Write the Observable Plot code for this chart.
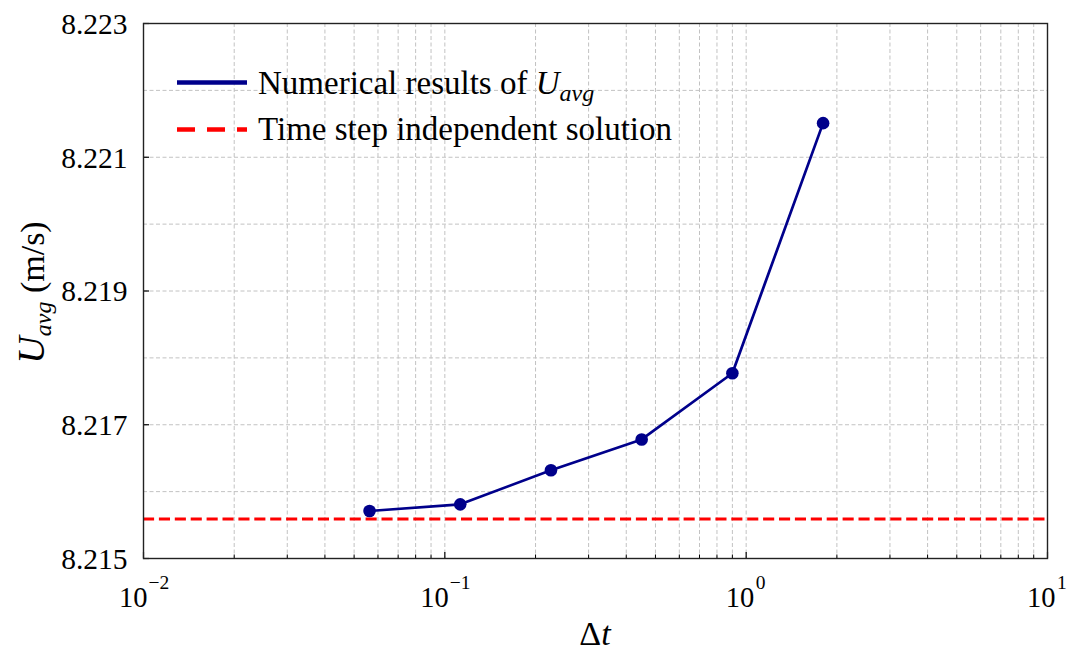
<!DOCTYPE html>
<html>
<head>
<meta charset="utf-8">
<script src="https://cdn.jsdelivr.net/npm/d3@7"></script>
<script src="https://cdn.jsdelivr.net/npm/@observablehq/plot@0.6"></script>
<style>
  html, body { margin: 0; padding: 0; background: #fff; }
  #chart { width: 1072px; height: 653px; }
  #chart svg, #chart svg text { font-family: 'Liberation Serif', 'Times New Roman', serif; }
</style>
</head>
<body>
<div id="chart"></div>
<script>
// ---- data ----
const dt = [0.05625, 0.1125, 0.225, 0.45, 0.9, 1.8];
const uavg = [8.21571, 8.21581, 8.21632, 8.21678, 8.21777, 8.22151];
const independentSolution = 8.21559;

// ---- ticks ----
const xMajor = [0.01, 0.1, 1, 10];
const xMinor = [0.02, 0.03, 0.04, 0.05, 0.06, 0.07, 0.08, 0.09,
                0.2, 0.3, 0.4, 0.5, 0.6, 0.7, 0.8, 0.9,
                2, 3, 4, 5, 6, 7, 8, 9];
const yTicks = [8.215, 8.217, 8.219, 8.221, 8.223];
const yGrid = [8.215, 8.216, 8.217, 8.218, 8.219, 8.220, 8.221, 8.222, 8.223];

const legendLabels = ["Numerical results of ", "Time step independent solution"];

// ---- layout ----
const W = 1072, H = 653, mL = 143, mR = 25, mT = 23, mB = 95;
const fw = W - mL - mR, fh = H - mT - mB;
const FONT = "'Liberation Serif', 'Times New Roman', serif";
const BLUE = "#00008b", RED = "#ff0000", GRID = "#c2c2c2";

const points = dt.map((d, i) => ({dt: d, u: uavg[i]}));
const expOf = d => String(Math.round(Math.log10(d))).replace("-", "\u2212");
const negExp = xMajor.filter(d => d < 1);
const posExp = xMajor.filter(d => d >= 1);

const plot = Plot.plot({
  width: W, height: H,
  marginLeft: mL, marginRight: mR, marginTop: mT, marginBottom: mB,
  style: {background: "#fff", color: "#000", overflow: "visible"},
  x: {type: "log", domain: [0.01, 10], axis: null},
  y: {domain: [8.215, 8.223], axis: null},
  marks: [
    Plot.gridX(xMajor.concat(xMinor), {stroke: GRID, strokeOpacity: 1, strokeWidth: 1, strokeDasharray: "4,2.5"}),
    Plot.gridY(yGrid, {stroke: GRID, strokeOpacity: 1, strokeWidth: 1, strokeDasharray: "4,2.5"}),
    Plot.ruleY([independentSolution], {stroke: RED, strokeWidth: 3, strokeDasharray: "11.1,4.8"}),
    Plot.line(points, {x: "dt", y: "u", stroke: BLUE, strokeWidth: 2.7}),
    Plot.dot(points, {x: "dt", y: "u", r: 6.3, fill: BLUE, stroke: "none"}),
    // inward ticks
    Plot.tickX(xMajor, {x: d => d, insetTop: fh - 6, stroke: "#000", strokeWidth: 1.2}),
    Plot.tickX(xMinor, {x: d => d, insetTop: fh - 3.5, stroke: "#000", strokeWidth: 1}),
    Plot.tickY(yTicks, {y: d => d, insetRight: fw - 6, stroke: "#000", strokeWidth: 1.2}),
    Plot.frame({stroke: "#222", strokeWidth: 1.4}),
    // y tick labels
    Plot.text(yTicks, {y: d => d, text: d => d.toFixed(3), frameAnchor: "left", textAnchor: "end", dx: -16, dy: 1, fontSize: 29.5, fontFamily: FONT}),
    // x tick labels 10^e
    Plot.text(negExp, {x: d => d, text: () => "10", frameAnchor: "bottom", textAnchor: "end", lineAnchor: "bottom", dx: 4, dy: 48, fontSize: 28.5, fontFamily: FONT}),
    Plot.text(negExp, {x: d => d, text: expOf, frameAnchor: "bottom", textAnchor: "start", lineAnchor: "bottom", dx: 5, dy: 30, fontSize: 19.5, fontFamily: FONT}),
    Plot.text(posExp, {x: d => d, text: () => "10", frameAnchor: "bottom", textAnchor: "end", lineAnchor: "bottom", dx: 8, dy: 48, fontSize: 28.5, fontFamily: FONT}),
    Plot.text(posExp, {x: d => d, text: expOf, frameAnchor: "bottom", textAnchor: "start", lineAnchor: "bottom", dx: 9.5, dy: 30, fontSize: 19.5, fontFamily: FONT})
  ]
});

document.getElementById("chart").appendChild(plot);

// ---- axis titles and legend (rich text) ----
const svg = d3.select(plot).attr("font-family", FONT);

// x label: Δt
const xl = svg.append("text")
  .attr("x", mL + fw / 2).attr("y", 645)
  .attr("text-anchor", "middle")
  .attr("font-family", FONT).attr("font-size", 34).attr("fill", "#000");
xl.append("tspan").text("\u0394");
xl.append("tspan").attr("font-style", "italic").text("t");

// y label: U_avg (m/s)
const yl = svg.append("text")
  .attr("transform", `translate(44,${mT + fh / 2 + 2}) rotate(-90)`)
  .attr("text-anchor", "middle")
  .attr("font-family", FONT).attr("font-size", 34).attr("fill", "#000");
yl.append("tspan").attr("font-style", "italic").attr("font-size", 38).text("U");
yl.append("tspan").attr("font-style", "italic").attr("font-size", 24).attr("dy", 7).text("avg");
yl.append("tspan").attr("dy", -7).text("\u00a0(m/s)");

// legend
const lg = svg.append("g").attr("font-family", FONT).attr("font-size", 33)
  .attr("fill", "#000").attr("text-anchor", "start");
lg.append("line").attr("x1", 177).attr("x2", 247).attr("y1", 82.5).attr("y2", 82.5)
  .attr("stroke", BLUE).attr("stroke-width", 4.5);
const t1 = lg.append("text").attr("x", 258).attr("y", 94).attr("text-anchor", "start");
t1.append("tspan").text(legendLabels[0]);
t1.append("tspan").attr("font-style", "italic").text("U");
t1.append("tspan").attr("font-style", "italic").attr("font-size", 24).attr("dy", 7).text("avg");

lg.append("line").attr("x1", 177).attr("x2", 247).attr("y1", 129.5).attr("y2", 129.5)
  .attr("stroke", RED).attr("stroke-width", 4.5).attr("stroke-dasharray", "18,12");
lg.append("text").attr("x", 258).attr("y", 140).attr("text-anchor", "start").text(legendLabels[1]);
</script>
</body>
</html>
